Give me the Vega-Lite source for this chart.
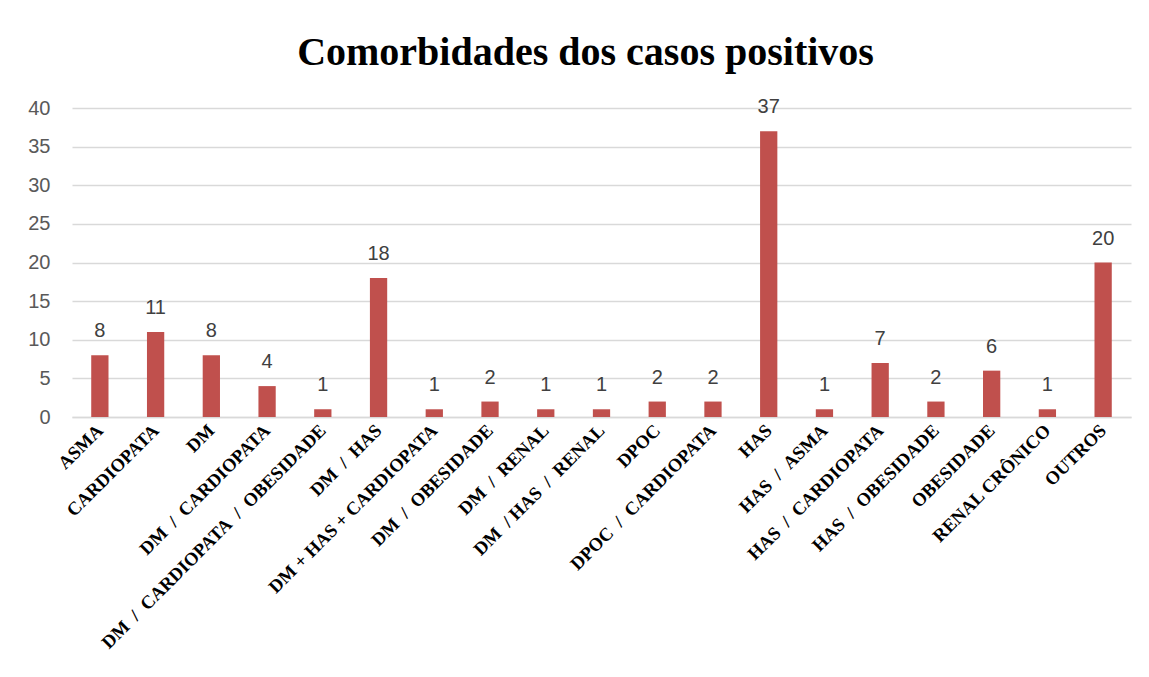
{
  "$schema": "https://vega.github.io/schema/vega-lite/v6.json",
  "autosize": {"type": "none"},
  "width": 1059,
  "height": 309,
  "padding": {"left": 72, "top": 108, "right": 18, "bottom": 260},
  "background": "white",
  "title": {
    "text": "Comorbidades dos casos positivos",
    "font": "Liberation Serif",
    "fontSize": 40,
    "fontWeight": "bold",
    "color": "#000000",
    "anchor": "middle",
    "baseline": "alphabetic",
    "offset": -8,
    "dx": -16
  },
  "data": {
    "values": [
      {"cat": "ASMA", "n": 8},
      {"cat": "CARDIOPATA", "n": 11},
      {"cat": "DM", "n": 8},
      {"cat": "DM\u00a0\u00a0/\u00a0\u00a0CARDIOPATA", "n": 4},
      {"cat": "DM\u00a0\u00a0/\u00a0\u00a0CARDIOPATA\u00a0\u00a0/\u00a0\u00a0OBESIDADE", "n": 1},
      {"cat": "DM\u00a0\u00a0/\u00a0\u00a0HAS", "n": 18},
      {"cat": "DM + HAS + CARDIOPATA", "n": 1},
      {"cat": "DM\u00a0\u00a0/\u00a0\u00a0OBESIDADE", "n": 2},
      {"cat": "DM\u00a0\u00a0/\u00a0\u00a0RENAL", "n": 1},
      {"cat": "DM\u00a0\u00a0/\u00a0HAS\u00a0\u00a0/\u00a0\u00a0RENAL", "n": 1},
      {"cat": "DPOC", "n": 2},
      {"cat": "DPOC\u00a0\u00a0/\u00a0\u00a0CARDIOPATA", "n": 2},
      {"cat": "HAS", "n": 37},
      {"cat": "HAS\u00a0\u00a0/\u00a0\u00a0ASMA", "n": 1},
      {"cat": "HAS\u00a0\u00a0/\u00a0\u00a0CARDIOPATA", "n": 7},
      {"cat": "HAS\u00a0\u00a0/\u00a0\u00a0OBESIDADE", "n": 2},
      {"cat": "OBESIDADE", "n": 6},
      {"cat": "RENAL CRÔNICO", "n": 1},
      {"cat": "OUTROS", "n": 20}
    ]
  },
  "encoding": {
    "x": {
      "field": "cat",
      "type": "nominal",
      "sort": null,
      "scale": {"paddingInner": 0.69, "paddingOuter": 0.345},
      "axis": {
        "title": null,
        "labelAngle": -45,
        "labelAlign": "right",
        "labelBaseline": "middle",
        "labelFont": "Liberation Serif",
        "labelFontWeight": "bold",
        "labelFontSize": 18.5,
        "labelColor": "#000000",
        "labelPadding": 10,
        "labelLimit": 0,
        "labelOverlap": false,
        "ticks": false,
        "domain": true,
        "domainColor": "#d9d9d9",
        "domainWidth": 1.5,
        "grid": false
      }
    },
    "y": {
      "field": "n",
      "type": "quantitative",
      "scale": {"domain": [0, 40]},
      "axis": {
        "title": null,
        "values": [0, 5, 10, 15, 20, 25, 30, 35, 40],
        "labelFont": "Liberation Sans",
        "labelFontSize": 20,
        "labelColor": "#595959",
        "labelPadding": 22,
        "ticks": false,
        "domain": false,
        "grid": true,
        "gridColor": "#d9d9d9",
        "gridWidth": 1.5
      }
    }
  },
  "layer": [
    {"mark": {"type": "bar", "color": "#c0504d"}},
    {
      "mark": {
        "type": "text",
        "baseline": "alphabetic",
        "dy": -18,
        "font": "Liberation Sans",
        "fontSize": 20,
        "color": "#404040"
      },
      "encoding": {"text": {"field": "n", "type": "quantitative"}}
    }
  ],
  "config": {"view": {"stroke": null}}
}
